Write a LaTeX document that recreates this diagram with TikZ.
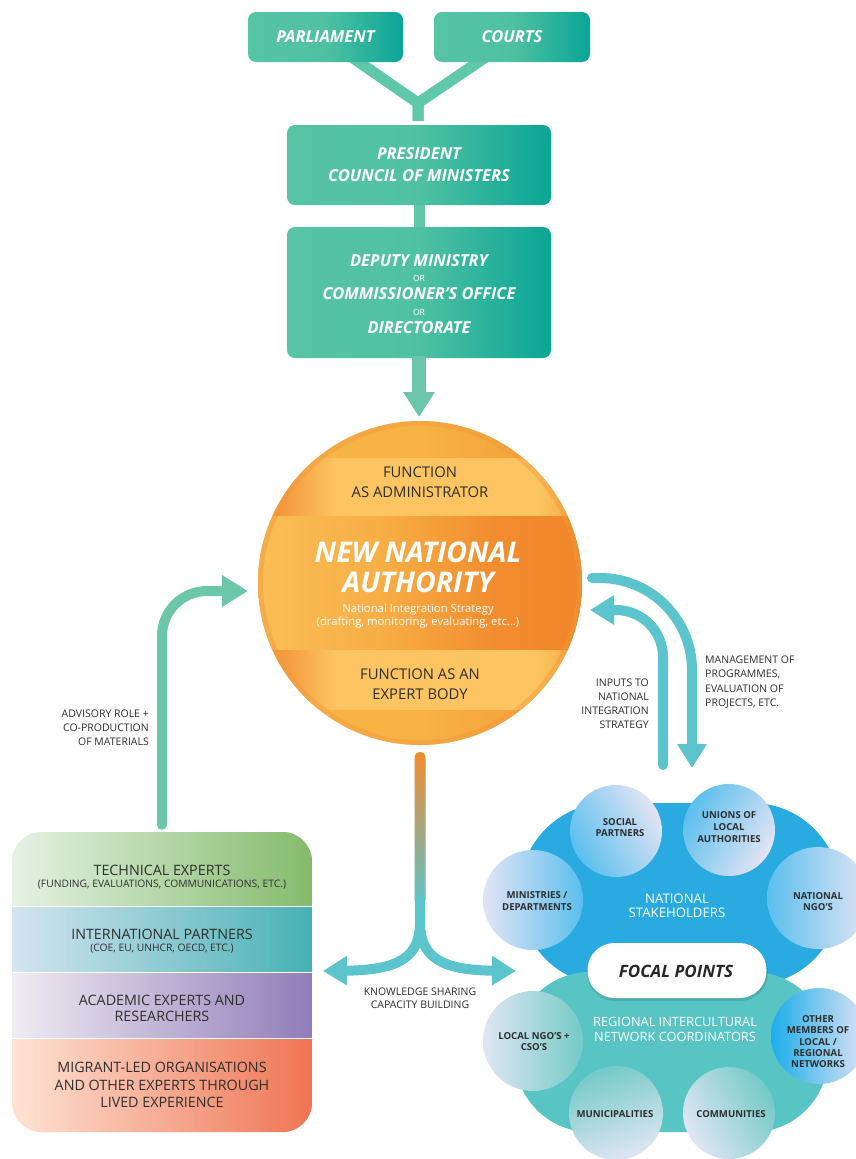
\documentclass[tikz,border=0pt]{standalone}
\usepackage{fontspec}
\setmainfont{Open Sans}
\usetikzlibrary{arrows.meta}

\newcommand\fsz[1]{\fontsize{#1}{#1}\selectfont}

% palette
\definecolor{tbL}{HTML}{57C4A4}
\definecolor{tbM}{HTML}{4FC1A1}
\definecolor{tbR}{HTML}{0AA597}
\definecolor{linkgreen}{HTML}{5FC8A7}
\definecolor{arrowgreen}{HTML}{6CC7A8}
\definecolor{arrowcyan}{HTML}{5BC4CC}
\definecolor{txtdark}{HTML}{2E2E2E}
\definecolor{stemorange}{HTML}{F28A2C}
% disc colours
\definecolor{discL}{HTML}{F8B648}
\definecolor{discM}{HTML}{F7B244}
\definecolor{discR}{HTML}{F4A13D}
\definecolor{discE}{HTML}{F28E31}
\definecolor{bandO}{HTML}{F3953A}
\definecolor{bandY}{HTML}{FCC561}
\definecolor{bandR}{HTML}{F5A640}
\definecolor{midL}{HTML}{F9BE55}
\definecolor{midM}{HTML}{F7AE45}
\definecolor{midR}{HTML}{F28C2E}
\definecolor{midE}{HTML}{F08629}
\definecolor{rimc}{HTML}{F19A3C}
% stack bands
\definecolor{gL}{HTML}{E6F2E4}
\definecolor{gR}{HTML}{84BB6C}
\definecolor{bL}{HTML}{D4E5F0}
\definecolor{bR}{HTML}{47B1B4}
\definecolor{pL}{HTML}{EFECF2}
\definecolor{pR}{HTML}{917CB9}
\definecolor{sL}{HTML}{FDE3D4}
\definecolor{sR}{HTML}{EF7453}
% stakeholder cluster
\definecolor{natblue}{HTML}{29AAE1}
\definecolor{regteal}{HTML}{58C5C4}
\definecolor{lav}{HTML}{E2E4F4}
\definecolor{skyb}{HTML}{5BBFEE}
\definecolor{vivid}{HTML}{1BADEA}
\definecolor{lavt}{HTML}{E0E6F2}
\definecolor{tealc}{HTML}{74CAC7}

\pgfdeclarehorizontalshading{discshade}{100bp}{color(0bp)=(discL); color(25bp)=(discL); color(50bp)=(discM); color(68bp)=(discR); color(75bp)=(discE); color(100bp)=(discE)}
\pgfdeclarehorizontalshading{bandshade}{100bp}{color(0bp)=(bandO); color(25bp)=(bandO); color(28bp)=(bandO); color(37bp)=(bandY); color(68bp)=(bandY); color(75bp)=(bandR); color(100bp)=(bandR)}
\pgfdeclarehorizontalshading{midshade}{100bp}{color(0bp)=(midL); color(25bp)=(midL); color(44bp)=(midM); color(62bp)=(midR); color(75bp)=(midE); color(100bp)=(midE)}

\pgfdeclarelayer{bg}
\pgfsetlayers{bg,main}

\begin{document}
\begin{tikzpicture}[x=1pt,y=-1pt,
  tealbox/.style={rounded corners=8pt, left color=tbL, right color=tbR, middle color=tbM,
    text=white, font=\bfseries\itshape\fsz{16.5}, inner sep=0pt},
  ylink/.style={draw=linkgreen, line width=11pt, line join=round},
  greenarrow/.style={draw=arrowgreen, line width=10pt, line cap=round,
    -{Triangle[width=30pt,length=26pt]}},
  cyanarrow/.style={draw=arrowcyan, line width=10pt, line cap=round,
    -{Triangle[width=28pt,length=24pt]}},
  lab/.style={anchor=base, inner sep=0pt, text=txtdark},
  wlab/.style={anchor=base, inner sep=0pt, text=white},
  bubble/.style={circle, inner sep=0pt},
  clab/.style={anchor=base, inner sep=0pt, text=txtdark, font=\bfseries\fsz{9.6}},
]
\begin{pgfonlayer}{bg}
  \fill[white] (0,0) rectangle (856,1159);
\end{pgfonlayer}
\useasboundingbox (0,0) rectangle (856,1159);

% ---------- governance chain ----------
\node[tealbox, minimum width=155pt, minimum height=50pt] (parl) at (325.5,37) {PARLIAMENT};
\node[tealbox, minimum width=156pt, minimum height=50pt] (courts) at (512,37) {COURTS};
\node[tealbox, minimum width=264pt, minimum height=80pt] (pres) at (419,165) {};
\node[tealbox, minimum width=264pt, minimum height=131pt] (dep) at (419,292.5) {};

\node[wlab, font=\bfseries\itshape\fsz{16.5}] (presA) at (419,159) {PRESIDENT};
\node[wlab, font=\bfseries\itshape\fsz{16.5}] (presB) at (419,181) {COUNCIL OF MINISTERS};
\node[wlab, font=\bfseries\itshape\fsz{16.5}] (depA) at (419,266) {DEPUTY MINISTRY};
\node[wlab, font=\fsz{8.5}] (depOr1) at (419,281) {OR};
\node[wlab, font=\bfseries\itshape\fsz{16.5}] (depB) at (419,299) {COMMISSIONER’S OFFICE};
\node[wlab, font=\fsz{8.5}] (depOr2) at (419,315) {OR};
\node[wlab, font=\bfseries\itshape\fsz{16.5}] (depC) at (419,333) {DIRECTORATE};

\coordinate (yjoin) at (418,103);
\coordinate (deptip) at (419,417);
\begin{pgfonlayer}{bg}
  \draw[ylink] ([xshift=25pt,yshift=6pt]parl.south) -- (yjoin) -- ([xshift=-1pt,yshift=4pt]pres.north);
  \draw[ylink] ([xshift=-25pt,yshift=6pt]courts.south) -- (yjoin) -- ([xshift=-1pt,yshift=4pt]pres.north);
  \draw[ylink] ([yshift=4pt]pres.south) -- ([yshift=-4pt]dep.north);
\end{pgfonlayer}
\draw[draw=arrowgreen, line width=14pt, -{Triangle[width=30pt,length=25pt]}]
  ([yshift=2pt]dep.south) -- (deptip);

% ---------- national authority disc ----------
\node[circle, minimum size=324pt, inner sep=0pt] (nna) at (420,583) {};
\begin{scope}
  \clip (nna.center) circle (162);
  \shade[shading=discshade] (258,421) rectangle (582,745);
  \shade[shading=bandshade] (258,458) rectangle (582,516);
  \shade[shading=midshade] (258,516) rectangle (582,650);
  \shade[shading=bandshade] (258,650) rectangle (582,709);
\end{scope}
\draw[rimc, opacity=0.45, line width=5pt] (nna.center) circle (159.5);

\node[lab, font=\fsz{14.8}] (admA) at (420,477) {FUNCTION};
\node[lab, font=\fsz{14.8}] (admB) at (420,497) {AS ADMINISTRATOR};
\node[wlab, font=\bfseries\itshape\fsz{28.5}] (nnaA) at (418,562) {NEW NATIONAL};
\node[wlab, font=\bfseries\itshape\fsz{28.5}] (nnaB) at (418,592) {AUTHORITY};
\node[wlab, font=\fsz{11.3}] (nisA) at (418,612) {National Integration Strategy};
\node[wlab, font=\fsz{11.3}] (nisB) at (418,625) {(drafting, monitoring, evaluating, etc...)};
\node[lab, font=\fsz{14.8}] (expA) at (420,679) {FUNCTION AS AN};
\node[lab, font=\fsz{14.8}] (expB) at (420,699) {EXPERT BODY};

% ---------- expert stack ----------
\node[minimum width=300pt, minimum height=300pt, inner sep=0pt] (stack) at (162,982) {};
\begin{scope}
  \clip[rounded corners=30pt] (stack.north west) rectangle (stack.south east);
  \shade[left color=gL, right color=gR] (12,832) rectangle (312,905.5);
  \shade[left color=bL, right color=bR] (12,907.5) rectangle (312,971);
  \shade[left color=pL, right color=pR] (12,973) rectangle (312,1037);
  \shade[left color=sL, right color=sR] (12,1039) rectangle (312,1132);
\end{scope}
\node[lab, font=\fsz{14.3}] (techA) at (162,875) {TECHNICAL EXPERTS};
\node[lab, font=\fsz{10.3}] (techB) at (162,887) {(FUNDING, EVALUATIONS, COMMUNICATIONS, ETC.)};
\node[lab, font=\fsz{14.3}] (intA) at (162,939) {INTERNATIONAL PARTNERS};
\node[lab, font=\fsz{10.3}] (intB) at (162,951) {(COE, EU, UNHCR, OECD, ETC.)};
\node[lab, font=\fsz{14.3}] (acaA) at (162,1005) {ACADEMIC EXPERTS AND};
\node[lab, font=\fsz{14.3}] (acaB) at (162,1021) {RESEARCHERS};
\node[lab, font=\fsz{14.3}] (migA) at (162,1072) {MIGRANT-LED ORGANISATIONS};
\node[lab, font=\fsz{14.3}] (migB) at (162,1090) {AND OTHER EXPERTS THROUGH};
\node[lab, font=\fsz{14.3}] (migC) at (162,1107) {LIVED EXPERIENCE};

% advisory arrow from the stack up to the disc
\coordinate (advtip) at (248,591);
\draw[greenarrow, rounded corners=45pt] ([yshift=7pt]stack.north) |- (advtip);
\node[lab, anchor=base east, font=\fsz{10.5}] (advA) at (149,717) {ADVISORY ROLE +};
\node[lab, anchor=base east, font=\fsz{10.5}] (advB) at (149,731) {CO-PRODUCTION};
\node[lab, anchor=base east, font=\fsz{10.5}] (advC) at (149,745) {OF MATERIALS};

% ---------- stakeholder cluster ----------
\node[fill=natblue, rounded corners=88pt, minimum width=320pt, minimum height=182pt, inner sep=0pt] (natblob) at (680,894) {};
\node[fill=regteal, rounded corners=75pt, minimum width=313pt, minimum height=160pt, inner sep=0pt] (regblob) at (671.5,1052) {};

\node[bubble, minimum size=92pt, left color=lav, right color=skyb, shading angle=-60] (social) at (616,831) {};
\node[bubble, minimum size=92pt, left color=skyb, right color=lav, shading angle=60] (unions) at (729,830) {};
\node[bubble, minimum size=100pt, left color=lav, right color=skyb] (minis) at (533,900) {};
\node[bubble, minimum size=102pt, left color=skyb, right color=lav] (ngo) at (818,898) {};

\node[bubble, minimum size=100pt, left color=lavt, right color=tealc] (localngo) at (533,1041) {};
\node[bubble, minimum size=94pt, top color=tealc, bottom color=lavt, shading angle=20] (munic) at (616,1113) {};
\node[bubble, minimum size=92pt, left color=lavt, right color=tealc, shading angle=120] (commun) at (729,1113) {};
\node[bubble, minimum size=96pt, left color=vivid, right color=lav] (othmem) at (819,1036) {};

\fill[black, opacity=0.12, rounded corners=28pt] (587,945) rectangle (768,1001);
\node[fill=white, rounded corners=27pt, minimum width=179pt, minimum height=55pt, inner sep=0pt] (focal) at (677,970.5) {};
\node[anchor=base, inner sep=0pt, text=black!85, font=\bfseries\itshape\fsz{17}] (focalT) at (676,977) {FOCAL POINTS};

\node[wlab, font=\fsz{13.2}] (natA) at (677,903) {NATIONAL};
\node[wlab, font=\fsz{13.2}] (natB) at (677,917) {STAKEHOLDERS};
\node[wlab, font=\fsz{12.8}] (regA) at (675,1026) {REGIONAL INTERCULTURAL};
\node[wlab, font=\fsz{12.8}] (regB) at (675,1041) {NETWORK COORDINATORS};

\node[clab] (socA) at (620,825) {SOCIAL};
\node[clab] (socB) at (620,836.5) {PARTNERS};
\node[clab] (uniA) at (729,818) {UNIONS OF};
\node[clab] (uniB) at (729,830) {LOCAL};
\node[clab] (uniC) at (729,842) {AUTHORITIES};
\node[clab] (minA) at (537,898) {MINISTRIES /};
\node[clab] (minB) at (537,910) {DEPARTMENTS};
\node[clab] (ngoA) at (818,899) {NATIONAL};
\node[clab] (ngoB) at (818,910.5) {NGO’S};
\node[clab] (locA) at (534,1039) {LOCAL NGO’S +};
\node[clab] (locB) at (534,1050) {CSO’S};
\node[clab] (munA) at (615,1117) {MUNICIPALITIES};
\node[clab] (comA) at (731,1117) {COMMUNITIES};
\node[clab] (othA) at (818,1022) {OTHER};
\node[clab] (othB) at (818,1033.5) {MEMBERS OF};
\node[clab] (othC) at (818,1045) {LOCAL /};
\node[clab] (othD) at (818,1056) {REGIONAL};
\node[clab] (othE) at (818,1067.5) {NETWORKS};

% ---------- exchanges between disc and stakeholders ----------
\coordinate (mgmtstart) at (592,578);
\coordinate (mgmttip) at (692,768);
\coordinate (inptstart) at (663,765);
\coordinate (inpttip) at (590,610);
\draw[cyanarrow, rounded corners=92pt] (mgmtstart) -| (mgmttip);
\draw[cyanarrow, rounded corners=47pt] (inptstart) |- (inpttip);

\node[lab, anchor=base east, font=\fsz{10.5}] (inA) at (649,686) {INPUTS TO};
\node[lab, anchor=base east, font=\fsz{10.5}] (inB) at (649,700) {NATIONAL};
\node[lab, anchor=base east, font=\fsz{10.5}] (inC) at (649,714) {INTEGRATION};
\node[lab, anchor=base east, font=\fsz{10.5}] (inD) at (649,728) {STRATEGY};
\node[lab, anchor=base west, font=\fsz{10.5}] (mgA) at (705,663) {MANAGEMENT OF};
\node[lab, anchor=base west, font=\fsz{10.5}] (mgB) at (705,677) {PROGRAMMES,};
\node[lab, anchor=base west, font=\fsz{10.5}] (mgC) at (705,692) {EVALUATION OF};
\node[lab, anchor=base west, font=\fsz{10.5}] (mgD) at (705,706) {PROJECTS, ETC.};

% knowledge-sharing fork below the disc
\coordinate (stemtop) at (420,752);
\coordinate (split) at (420,898);
\coordinate (kleft) at (323,971);
\coordinate (kright) at (516,971);
\shade[top color=stemorange, bottom color=arrowcyan, rounded corners=5pt]
  (414.5,752) rectangle (425.5,905);
\draw[cyanarrow, line cap=butt] (split) -- (420,922) .. controls (420,958) and (398,970) .. (kleft);
\draw[cyanarrow, line cap=butt] (split) -- (420,922) .. controls (420,958) and (442,970) .. (kright);
\node[lab, font=\fsz{10.5}] (ksA) at (420,995) {KNOWLEDGE SHARING};
\node[lab, font=\fsz{10.5}] (ksB) at (420,1008) {CAPACITY BUILDING};

\end{tikzpicture}
\end{document}
